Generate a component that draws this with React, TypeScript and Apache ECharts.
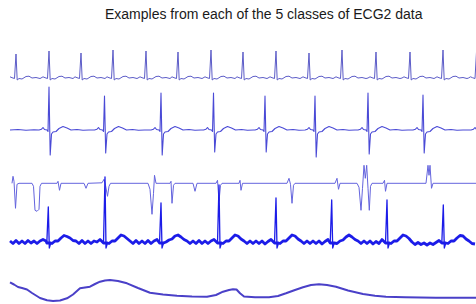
import React, { useEffect, useRef } from "react";
import * as echarts from "echarts";

const TITLE = "Examples from each of the 5 classes of ECG2 data";

// Class 1: narrow upright beats
const c1Times = [16, 49, 81, 113, 146, 178, 211, 243, 276, 309, 342, 376, 410, 443, 476.5];
const c1R = [24, 27, 25, 28, 27, 26, 28, 26, 27, 25, 28, 26, 26, 28, 26];
const c1Shape: any[] = [[-8, 0], [-6, 1.2], [-4, 0.3], [-1.5, -0.5], [0, "R"], [1.2, -2], [3, -0.5], [6, -1], [10, 1.5], [13, 1.8], [16, 0], [20, 0.5], [24, -0.5]];

// Class 2: R/S complexes
const c2Lead = [[10, 0], [18, 0.5], [26, -0.3], [34, 0.2]];
const c2Times = [49, 104.5, 161, 213.5, 265, 315, 368, 423, 481];
const c2R = [43, 34, 37, 37, 34, 34, 37, 35, 35];
const c2S = [25, 23, 25, 22, 22, 27, 24, 23, 24];
const c2Shape: any[] = [[-10, 0], [-7.5, 0.8], [-6, 2.5], [-4.5, 0.5], [-2, 0], [-1, -1.5], [0, "R"], [1.2, "S"], [2.5, -4], [4, -2], [7, -1.5], [10, 1.5], [14, 3.5], [18, 2], [22, 0], [28, 0.5], [34, -0.3], [40, 0]];

// Class 3: irregular beats
const c3Points = [
  [12, 0], [13, 7], [14, 2], [15.5, -25], [17, -1], [19, 0], [32, 0], [33.5, -3], [35, -27], [37, -28], [39, -26], [40, -3], [41.5, 0],
  [57, 0], [58, 2], [59.5, -7], [61, 0], [84, 0], [86, -5], [88, 0], [102, 0.5], [104, 4], [105.5, -2], [107.5, -13], [109, -3], [110.5, 0],
  [148, 0], [150, -6], [152, -31], [153.5, -10], [154.5, 8], [156, 0], [170, 0], [171, 2], [172, -20], [173.5, -2], [175, 0],
  [193, 0], [195, -8], [197, 0], [216, 0], [217.5, 3], [219, -18], [220.5, -2], [222, 0], [239, 0], [240, 3], [241, -7], [242.5, 0],
  [287, 0], [289, 5], [290.5, -1], [292, -20], [293.5, -2], [295, 0], [335, 0], [337, 5], [338.5, -6], [340, 0],
  [357, 0], [359, -4], [361, -27], [362.5, -5], [364, 18], [365.3, 5], [366.7, 18], [368, -5], [369.3, -27], [370.5, -3], [372, 0],
  [383, 0], [384.5, 3], [385.5, -8], [387, 0], [426, 0], [428, 18], [429, 8], [430, 18], [431.5, -5], [433, 0], [476, 0],
];

// Class 4: noisy baseline with spikes (baseline sampled every 3 px from x=10)
const c4Times = [48.3, 105, 161, 219, 276, 331.7, 387, 443.3];
const c4R = [35, 65, 39, 57, 44, 42, 42, 37];
const c4BaseStart = 10;
const c4BaseStep = 3;
const c4Base = [
  1, -1.5, 1.5, -1.5, 1, -1.5, 1.5, -1, 1, -1.5,
  1, 2.5, 1, 0, -1.5, 1, 1, 4, 6.5, 5.5,
  4, 1.5, 1, -1.5, 1.5, -1.5, 1, -1.5, 1, 0,
  2.5, 0, 0, -1.5, 1, 1, 4, 7, 6, 3.5,
  1, -1.5, 1.5, -1.5, 1, -1.5, 1.5, -1.5, 1, 2.5,
  0, -1, 0, 2, 3, 6, 7, 5, 2.5, 1,
  -1.5, 1, -1.5, 1.5, -1.5, 1, -1.5, 1, 2.5, 0,
  0, -1.5, 1, 1, 4, 7, 6, 3, 1, -1.5,
  1, -1.5, 1, -1.5, 1, -2, 0.5, 2.5, 0, 0,
  -1.5, 1, 1, 4, 7, 6, 3, 1, -1.5, 1,
  -1.5, 1, -1.5, 1, -2, 0.5, 2.5, 0, 0, -1.5,
  1, 2, 5, 7, 5, 2.5, 1, -1.5, 1, -1.5,
  1, -2, 0.5, -1.5, 2.5, 0, 0, -1.5, 1, 1,
  4, 7, 6, 3.5, 0, -2.5, -0.5, -2.5, -1, -3,
  -1, -2.5, -0.5, 1.5, 0, 0, -1.5, 1, 1, 4,
  6.5, 6, 3, 1, -1.5, -2,
];

// Class 5: slow wave
const c5Points = [
  [10, 7.7], [14, 5.5], [18, 3], [22, 2], [27, 0.5], [32, -3], [40, -8], [47, -10.3], [53, -11], [60, -10.5], [67, -8.3], [73, -4.5],
  [80, 1.7], [85, 2.5], [90, 3.3], [95, 6], [100, 8.3], [105, 9.5], [110, 10], [118, 9], [127, 6.7], [138, 2], [150, -2.7], [163, -4.5],
  [177, -5.7], [192, -6.5], [207, -6.7], [216, -5], [223, -1.7], [229, 0], [233, 0.7], [236.5, 0.5], [240, -3.3], [244, -6.5], [255, -7.3],
  [269, -7.3], [278, -6], [286, -3.3], [295, 0], [303, 2.7], [311, 5], [319, 5.7], [327, 5], [336, 3.3], [348, -0.5], [363, -4],
  [375, -5.7], [386, -6.7], [405, -7.3], [436, -7.7], [476, -7.7],
];

function beatTrace(lead: number[][], times: number[], shape: any[], vals: Record<string, number[]>, start: number, end: number) {
  const pts: number[][] = lead.slice();
  times.forEach((t, i) => {
    shape.forEach(([dx, v]) => {
      const x = t + dx;
      const y = typeof v === "string" ? vals[v][i] : v;
      if (x >= start && x <= end) pts.push([x, y]);
    });
  });
  pts.sort((a, b) => a[0] - b[0]);
  return pts;
}

function bandTrace() {
  const pts: number[][] = [];
  c4Base.forEach((v, i) => {
    const x = c4BaseStart + i * c4BaseStep;
    const near = c4Times.some((t) => x >= t - 2 && x <= t + 3);
    if (!near) pts.push([x, v]);
  });
  c4Times.forEach((t) => {
    pts.push([t - 1.5, -1], [t + 2.5, -1]);
  });
  pts.sort((a, b) => a[0] - b[0]);
  return pts;
}

function spikeTrace() {
  const pts: any[] = [];
  c4Times.forEach((t, i) => {
    pts.push([t - 1.5, -1], [t, c4R[i]], [t + 1, -6], [t + 2.5, -1], [t + 3, "-"]);
  });
  return pts;
}

// layout: baseline pixel row and amplitude range of each strip
const strips = [
  { base: 78, lo: -8, hi: 30, color: "#5c5cc8", width: 1 },
  { base: 130, lo: -30, hi: 46, color: "#4a4ad6", width: 1.1 },
  { base: 183.3, lo: -32, hi: 22, color: "#6464de", width: 1 },
  { base: 242, lo: -10, hi: 68, color: "#1c1ce8", width: 1.3 },
  { base: 290, lo: -14, hi: 14, color: "#4a40c8", width: 2 },
];

export default function App() {
  const ref = useRef<HTMLDivElement>(null);
  useEffect(() => {
    document.body.style.margin = "0";
    const chart = echarts.init(ref.current!, null, { renderer: "svg" });
    const base = (i: number, d: any[], w?: number) => ({
      type: "line",
      xAxisIndex: i,
      yAxisIndex: i,
      data: d,
      symbol: "none",
      showSymbol: false,
      clip: false,
      silent: true,
      connectNulls: false,
      lineStyle: { color: strips[i].color, width: w ?? strips[i].width, join: "round" },
    });
    chart.setOption({
      animation: false,
      backgroundColor: "#ffffff",
      title: {
        text: TITLE,
        left: 100,
        top: 2,
        textStyle: { fontFamily: "Liberation Sans, Arial, sans-serif", fontSize: 14, fontWeight: "normal", color: "#1a1a1a" },
      },
      grid: strips.map((s) => ({ left: 0, right: 0, top: s.base - s.hi, height: s.hi - s.lo })),
      xAxis: strips.map((_, i) => ({ type: "value", gridIndex: i, min: 0, max: 476, show: false })),
      yAxis: strips.map((s, i) => ({ type: "value", gridIndex: i, min: s.lo, max: s.hi, show: false })),
      series: [
        base(0, beatTrace([], c1Times, c1Shape, { R: c1R }, 10, 478)),
        base(1, beatTrace(c2Lead, c2Times, c2Shape, { R: c2R, S: c2S.map((s) => -s) }, 10, 478)),
        base(2, c3Points),
        base(3, bandTrace(), 2.8),
        base(3, spikeTrace()),
        base(4, c5Points),
      ],
    });
    return () => chart.dispose();
  }, []);
  return <div ref={ref} style={{ width: 476, height: 304 }} />;
}
